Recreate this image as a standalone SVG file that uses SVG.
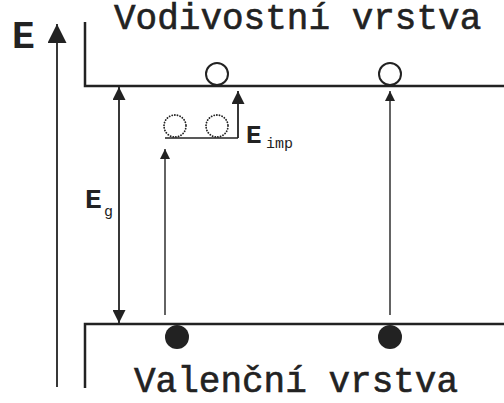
<svg xmlns="http://www.w3.org/2000/svg" width="504" height="403" viewBox="0 0 504 403">
  <style>
    .band { fill: none; stroke: #222; stroke-width: 2.5; }
    .thick { stroke: #222; stroke-width: 1.8; fill: none; }
    .thin { stroke: #222; stroke-width: 1.4; fill: none; }
    .title { font-family: "Liberation Mono", "Courier New", monospace; font-size: 36px; fill: #222; stroke: #222; stroke-width: 0.6; }
    .sym { font-family: "Liberation Mono", "Courier New", monospace; font-weight: bold; fill: #222; }
    .sub { font-family: "Liberation Mono", "Courier New", monospace; fill: #222; }
    .electron { fill: #222; }
    .hole { fill: #fff; stroke: #222; stroke-width: 2; }
    .imp { fill: none; stroke: #222; stroke-width: 1.8; stroke-dasharray: 0.1 2.6; stroke-linecap: round; }
  </style>
  <defs>
    <marker id="head" viewBox="0 0 10 10" refX="10" refY="5" markerWidth="10" markerHeight="10" markerUnits="userSpaceOnUse" orient="auto">
      <path d="M0,0 L10,5 L0,10 Z" fill="#222"/>
    </marker>
    <marker id="headBig" viewBox="0 0 10 10" refX="10" refY="5" markerWidth="19" markerHeight="19" markerUnits="userSpaceOnUse" orient="auto">
      <path d="M0,0 L10,5 L0,10 Z" fill="#222"/>
    </marker>
    <marker id="headMid" viewBox="0 0 10 10" refX="10" refY="5" markerWidth="13" markerHeight="13" markerUnits="userSpaceOnUse" orient="auto">
      <path d="M0,0 L10,5 L0,10 Z" fill="#222"/>
    </marker>
  </defs>

  <!-- energy axis -->
  <g id="axis">
    <line class="thick" x1="57" y1="387" x2="57" y2="24" stroke-width="2.2" marker-end="url(#headBig)"/>
    <text class="sym" x="12" y="48" font-size="38">E</text>
  </g>

  <!-- conduction band -->
  <g id="conduction-band">
    <path class="band" d="M85,22 V86 H504"/>
    <text class="title" x="114" y="29">Vodivostní vrstva</text>
  </g>

  <!-- valence band -->
  <g id="valence-band">
    <path class="band" d="M85,388 V324 H504"/>
    <text class="title" x="134" y="392">Valenční vrstva</text>
  </g>

  <!-- impurity level -->
  <g id="impurity-level">
    <line class="thin" x1="165" y1="138" x2="238" y2="138" stroke-width="1.6"/>
    <circle class="imp" cx="175" cy="126" r="11"/>
    <circle class="imp" cx="217" cy="126" r="11"/>
    <text class="sym" x="246" y="143" font-size="26">E</text>
    <text class="sub" x="266" y="148" font-size="15">imp</text>
  </g>

  <!-- carriers -->
  <g id="holes">
    <circle class="hole" cx="217" cy="74" r="11"/>
    <circle class="hole" cx="390" cy="74" r="11"/>
  </g>
  <g id="electrons">
    <circle class="electron" cx="177" cy="337" r="12"/>
    <circle class="electron" cx="390" cy="337" r="12"/>
  </g>

  <!-- gap label -->
  <g id="gap-label">
    <text class="sym" x="85" y="208" font-size="28">E</text>
    <text class="sub" x="104" y="216" font-size="15">g</text>
  </g>

  <!-- transitions -->
  <g id="connectors">
    <line class="thick" x1="119" y1="205" x2="119" y2="87" marker-end="url(#headMid)"/>
    <line class="thick" x1="119" y1="205" x2="119" y2="323" marker-end="url(#headMid)"/>
    <line class="thin" x1="165" y1="315" x2="165" y2="149" marker-end="url(#head)"/>
    <line class="thin" x1="390" y1="315" x2="390" y2="91" marker-end="url(#head)"/>
    <line class="thick" x1="238" y1="138" x2="238" y2="91" marker-end="url(#headMid)"/>
  </g>
</svg>
